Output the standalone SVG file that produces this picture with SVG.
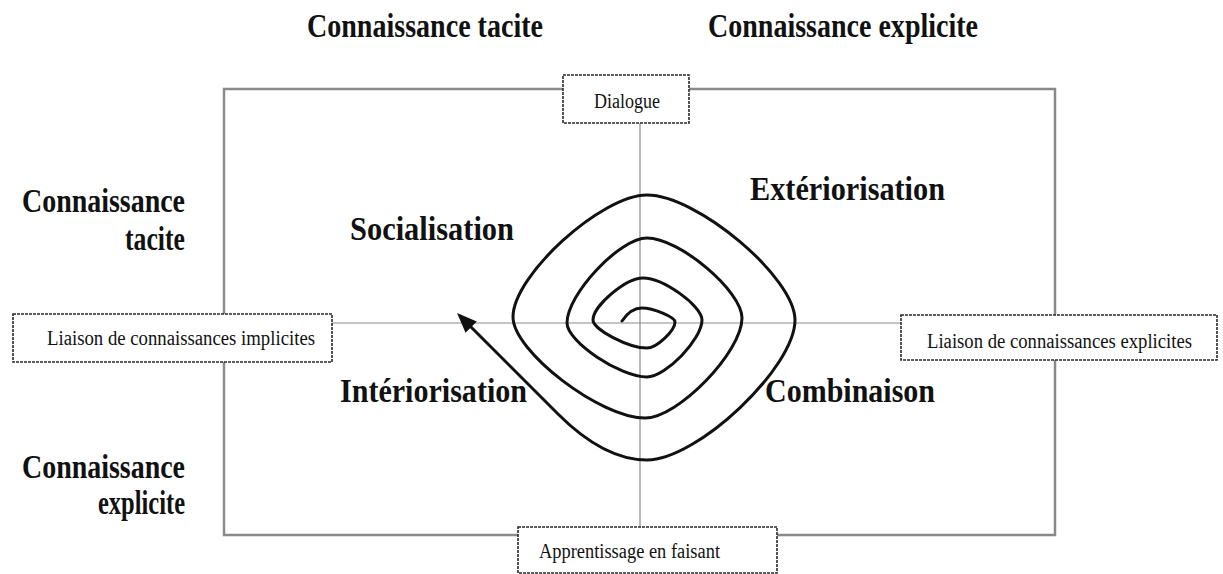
<svg xmlns="http://www.w3.org/2000/svg" width="1223" height="574" viewBox="0 0 1223 574">
  <style>
    .frame { fill: none; stroke: #8a8a8a; stroke-width: 2.5; }
    .axis { fill: none; stroke: #8a8a8a; stroke-width: 1.2; }
    .box { fill: #ffffff; stroke: #2a2a2a; stroke-width: 1.6; stroke-dasharray: 3 1; }
    .head { font-family: "Liberation Serif", "Times New Roman", serif; font-weight: bold; font-size: 33px; fill: #111; }
    .mode { font-family: "Liberation Serif", "Times New Roman", serif; font-weight: bold; font-size: 33px; fill: #111; }
    .lbl { font-family: "Liberation Serif", "Times New Roman", serif; font-size: 20px; fill: #111; }
    .spiral { fill: none; stroke: #111; stroke-width: 3; stroke-linecap: round; stroke-linejoin: round; }
  </style>
  <defs>
    <marker id="arrow" markerUnits="userSpaceOnUse" markerWidth="22" markerHeight="18" refX="13" refY="8" orient="auto">
      <path d="M0,0 L20,8 L0,16 z" fill="#111"/>
    </marker>
  </defs>

  <rect width="1223" height="574" fill="#ffffff"/>

  <!-- column and row headings -->
  <g id="headings">
    <text class="head" x="307" y="37" textLength="236" lengthAdjust="spacingAndGlyphs">Connaissance tacite</text>
    <text class="head" x="708" y="37" textLength="270" lengthAdjust="spacingAndGlyphs">Connaissance explicite</text>
    <text class="head" x="22" y="212" textLength="163" lengthAdjust="spacingAndGlyphs">Connaissance</text>
    <text class="head" x="125" y="250" textLength="60" lengthAdjust="spacingAndGlyphs">tacite</text>
    <text class="head" x="22" y="478" textLength="163" lengthAdjust="spacingAndGlyphs">Connaissance</text>
    <text class="head" x="98" y="514" textLength="87" lengthAdjust="spacingAndGlyphs">explicite</text>
  </g>

  <!-- frame and axes -->
  <g id="connectors">
    <rect class="frame" x="224" y="89" width="831" height="446"/>
    <line class="axis" x1="640" y1="89" x2="640" y2="535"/>
    <line class="axis" x1="224" y1="323" x2="1055" y2="323"/>
    <!-- knowledge spiral -->
    <path class="spiral" marker-end="url(#arrow)" d="M622,321 C628,312 634,308 642,308
      C653.2,308 675,317.2 675,322
      C675,330.8 656.5,348 647,348
      C628.6,348 593,329.5 593,320
      C593,305.7 626,278 643,278
      C663.1,278 702,305.7 702,320
      C702,339.4 665.7,377 647,377
      C619.8,377 567,341.4 567,323
      C567,294.1 619.8,238 647,238
      C679.3,238 742,290.8 742,318
      C742,352 678,418 645,418
      C600.1,418 513,351.3 513,317
      C513,275.5 601.4,195 647,195
      C697.3,195 795,277.5 795,320
      C795,367.6 697.3,460 647,460
      C618,460 588,444 558,414
      L462,318"/>
  </g>

  <!-- quadrant modes -->
  <g id="socialisation"><text class="mode" x="350" y="240" textLength="164" lengthAdjust="spacingAndGlyphs">Socialisation</text></g>
  <g id="exteriorisation"><text class="mode" x="750" y="200" textLength="195" lengthAdjust="spacingAndGlyphs">Extériorisation</text></g>
  <g id="interiorisation"><text class="mode" x="340" y="402" textLength="187" lengthAdjust="spacingAndGlyphs">Intériorisation</text></g>
  <g id="combinaison"><text class="mode" x="765" y="402" textLength="170" lengthAdjust="spacingAndGlyphs">Combinaison</text></g>

  <!-- link boxes on the axes -->
  <g id="dialogue">
    <rect class="box" x="563" y="75" width="126" height="48"/>
    <text class="lbl" x="594" y="108" textLength="66" lengthAdjust="spacingAndGlyphs" font-size="18">Dialogue</text>
  </g>
  <g id="apprentissage">
    <rect class="box" x="518" y="527" width="259" height="46"/>
    <text class="lbl" x="539" y="558" textLength="181" lengthAdjust="spacingAndGlyphs">Apprentissage en faisant</text>
  </g>
  <g id="liaison-implicites">
    <rect class="box" x="13" y="314" width="319" height="48"/>
    <text class="lbl" x="47" y="345" textLength="268" lengthAdjust="spacingAndGlyphs">Liaison de connaissances implicites</text>
  </g>
  <g id="liaison-explicites">
    <rect class="box" x="901" y="315" width="316" height="45"/>
    <text class="lbl" x="927" y="348" textLength="265" lengthAdjust="spacingAndGlyphs">Liaison de connaissances explicites</text>
  </g>
</svg>
